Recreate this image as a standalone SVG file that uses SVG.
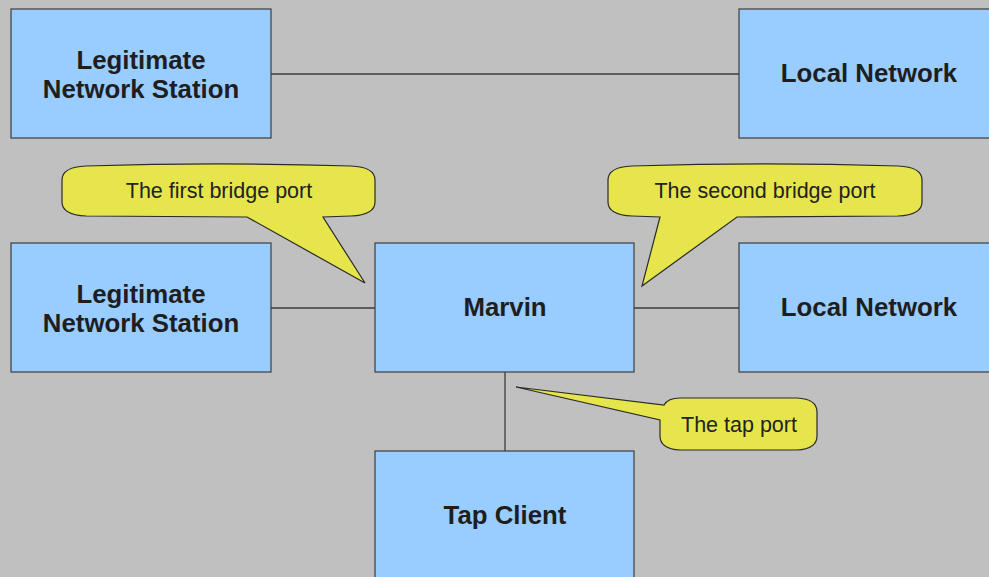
<svg xmlns="http://www.w3.org/2000/svg" width="989" height="577" viewBox="0 0 989 577">
  <style>
    .box { fill: #99ccff; stroke: #3c3c3c; stroke-width: 1.2; }
    .call { fill: #e6e64c; stroke: #2a2a2a; stroke-width: 1.2; stroke-linejoin: miter; }
    .lbl { font-family: "Liberation Sans", Arial, sans-serif; font-weight: bold; font-size: 25.8px; fill: #1e1e1e; text-anchor: middle; }
    .note { font-family: "Liberation Sans", Arial, sans-serif; font-size: 21.5px; fill: #222; text-anchor: middle; }
    .wire { stroke: #3c3c3c; stroke-width: 1.3; fill: none; }
  </style>
  <rect width="989" height="577" fill="#c0c0c0"/>

  <g id="connectors">
    <line class="wire" x1="271" y1="74" x2="739" y2="74"/>
    <line class="wire" x1="271" y1="308" x2="375" y2="308"/>
    <line class="wire" x1="634" y1="308" x2="739" y2="308"/>
    <line class="wire" x1="505" y1="372" x2="505" y2="451"/>
  </g>

  <g id="station-top">
    <rect class="box" x="11" y="9" width="260" height="129"/>
    <text class="lbl" x="141" y="69">Legitimate</text>
    <text class="lbl" x="141" y="98">Network Station</text>
  </g>
  <g id="network-top">
    <rect class="box" x="739" y="9" width="260" height="129"/>
    <text class="lbl" x="869" y="82">Local Network</text>
  </g>
  <g id="station-mid">
    <rect class="box" x="11" y="243" width="260" height="129"/>
    <text class="lbl" x="141" y="303">Legitimate</text>
    <text class="lbl" x="141" y="332">Network Station</text>
  </g>
  <g id="marvin">
    <rect class="box" x="375" y="243" width="259" height="129"/>
    <text class="lbl" x="505" y="316">Marvin</text>
  </g>
  <g id="network-mid">
    <rect class="box" x="739" y="243" width="260" height="129"/>
    <text class="lbl" x="869" y="316">Local Network</text>
  </g>
  <g id="tap-client">
    <rect class="box" x="375" y="451" width="259" height="140"/>
    <text class="lbl" x="505" y="524">Tap Client</text>
  </g>

  <!-- speech-bubble notes: rounded body with a pointed tail -->
  <g id="note-first">
    <path class="call" d="M 62,180 Q 62,167 86,166 C 180,163 257,163 351,166 Q 375,167 375,180 V 202 Q 375,215 351,216 L 323,217 L 365,283 L 247,217 L 86,216 Q 62,215 62,202 Z"/>
    <text class="note" x="219" y="198">The first bridge port</text>
  </g>
  <g id="note-second">
    <path class="call" d="M 608,180 Q 608,167 632,166 C 726,163 804,163 898,166 Q 922,167 922,180 V 202 Q 922,215 898,216 L 737,217 L 642,286 L 660,217 L 632,216 Q 608,215 608,202 Z"/>
    <text class="note" x="765" y="198">The second bridge port</text>
  </g>
  <g id="note-tap">
    <path class="call" d="M 680,398 H 797 Q 817,399 817,412 V 436 Q 817,449 797,450 H 680 Q 660,449 660,436 V 420 L 516,387 L 664,405 Q 668,398 680,398 Z"/>
    <text class="note" x="739" y="432">The tap port</text>
  </g>
</svg>
